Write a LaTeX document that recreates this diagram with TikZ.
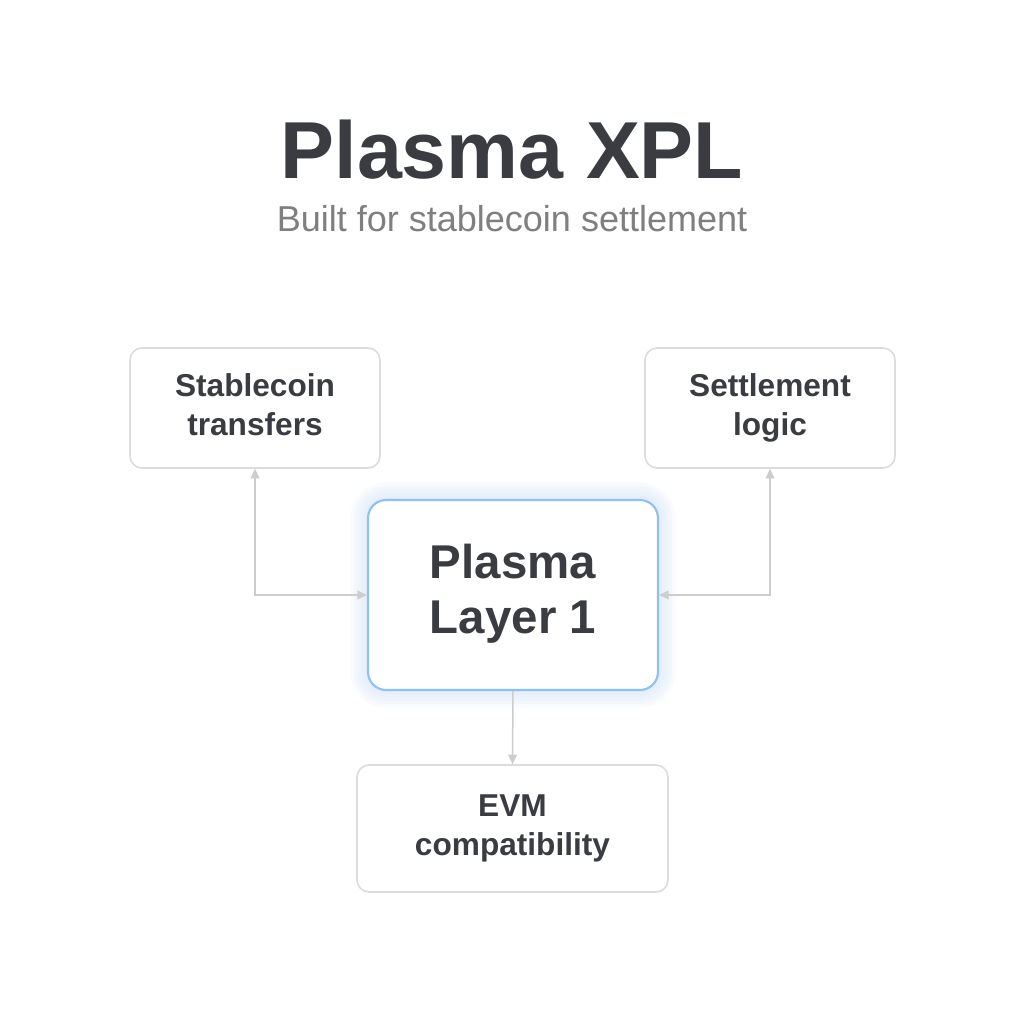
\documentclass[tikz,border=0pt]{standalone}
\usepackage{fontspec}
\setmainfont{Liberation Sans}
\usetikzlibrary{arrows.meta,positioning}
\definecolor{inkdark}{HTML}{3A3C41}
\definecolor{inkgray}{HTML}{7F7F7F}
\definecolor{boxline}{HTML}{DCDCDC}
\definecolor{coreline}{HTML}{8FC0F4}
\definecolor{coreglow}{HTML}{BFD9F7}
\definecolor{linkgray}{HTML}{CDCDCD}

\begin{document}
\begin{tikzpicture}[x=0.02cm, y=-0.02cm, >={Triangle[length=5.5pt,width=5pt]},
  featbox/.style={draw=boxline, line width=0.9pt, fill=white, rounded corners=0.24cm,
    minimum width=5cm, minimum height=2.4cm, align=center, text=inkdark,
    font=\bfseries\fontsize{18}{22}\selectfont},
  corebox/.style={draw=coreline, line width=1.2pt, fill=white, rounded corners=0.36cm,
    minimum width=5.8cm, minimum height=3.8cm, align=center, text=inkdark,
    font=\bfseries\fontsize{27}{31.5}\selectfont},
  link/.style={draw=linkgray, line width=0.85pt}]

  % Canvas
  \fill[white] (0, 0) rectangle (1024, 1024);
  \useasboundingbox (0, 0) rectangle (1024, 1024);

  % ==================== HEADER ====================
  \node[anchor=base, text=inkdark, font=\bfseries\fontsize{46}{50}\selectfont] (title) at (512, 178) {Plasma XPL};
  \node[anchor=base, text=inkgray, font=\fontsize{20.5}{24}\selectfont] (subtitle) at (512, 231) {Built for stablecoin settlement};

  % ==================== CORE (soft glow) ====================
  \foreach \w in {20, 16, 12, 8, 4} {
    \draw[coreglow, line width=\w pt, opacity=0.09, rounded corners=0.36cm] (368, 500) rectangle (658, 690);
  }
  \node[corebox] (core) at (513, 595) {Plasma\strut\\Layer 1\strut};

  % ==================== FEATURES ====================
  \node[featbox] (stable) at (255, 408) {Stablecoin\strut\\transfers\strut};
  \node[featbox] (settle) at (770, 408) {Settlement\strut\\logic\strut};
  \node[featbox, minimum width=6.22cm, minimum height=2.54cm] (evm) at (512.5, 828.5) {EVM\strut\\compatibility\strut};

  % Connectors
  \draw[link, <->] (stable.south) |- (core.west);
  \draw[link, <->] (settle.south) |- (core.east);
  \draw[link, ->] (core.south) -- (evm.north);

\end{tikzpicture}
\end{document}
